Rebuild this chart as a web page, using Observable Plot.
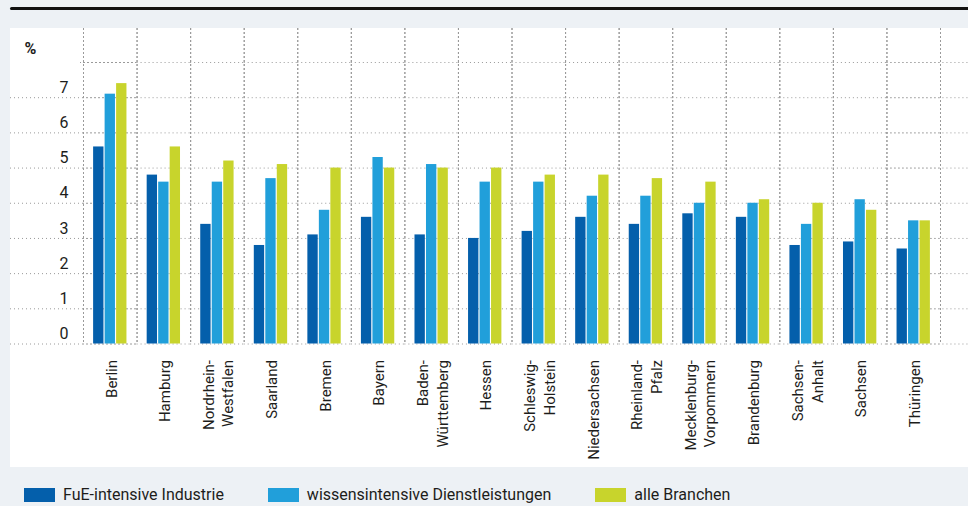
<!DOCTYPE html>
<html>
<head>
<meta charset="utf-8">
<script src="https://cdn.jsdelivr.net/npm/d3@7"></script>
<script src="https://cdn.jsdelivr.net/npm/@observablehq/plot@0.6"></script>
<style>
  html, body { margin: 0; padding: 0; }
  body { width: 968px; height: 506px; background: #edf1f5; position: relative; overflow: hidden;
         font-family: Roboto, "Liberation Sans", sans-serif; color: #1d1d1b; }
  #topline { position: absolute; left: 10px; right: 0; top: 7px; height: 3px; background: #111;
             border-radius: 2px 0 0 2px; }
  #panel { position: absolute; left: 10px; top: 28px; width: 958px; height: 439px; background: #fff; }
  #panel svg { display: block; overflow: visible; }
  #legend { position: absolute; left: 24px; top: 485px; display: flex; align-items: center; gap: 44px; font-size: 16px; }
  .item { display: flex; align-items: center; gap: 8px; }
  .sw { width: 31px; height: 14px; }
</style>
</head>
<body>
<div id="topline"></div>
<div id="panel"></div>
<div id="legend"></div>
<script>
const states = ["Berlin","Hamburg","Nordrhein-Westfalen","Saarland","Bremen","Bayern","Baden-Württemberg","Hessen","Schleswig-Holstein","Niedersachsen","Rheinland-Pfalz","Mecklenburg-Vorpommern","Brandenburg","Sachsen-Anhalt","Sachsen","Thüringen"];
const stateLabels = ["Berlin","Hamburg","Nordrhein-\nWestfalen","Saarland","Bremen","Bayern","Baden-\nWürttemberg","Hessen","Schleswig-\nHolstein","Niedersachsen","Rheinland-\nPfalz","Mecklenburg-\nVorpommern","Brandenburg","Sachsen-\nAnhalt","Sachsen","Thüringen"];
const seriesNames = ["FuE-intensive Industrie","wissensintensive Dienstleistungen","alle Branchen"];
const seriesColors = ["#045fab","#219fda","#c8d42c"];
const fue  = [5.6,4.8,3.4,2.8,3.1,3.6,3.1,3.0,3.2,3.6,3.4,3.7,3.6,2.8,2.9,2.7];
const wiss = [7.1,4.6,4.6,4.7,3.8,5.3,5.1,4.6,4.6,4.2,4.2,4.0,4.0,3.4,4.1,3.5];
const alle = [7.4,5.6,5.2,5.1,5.0,5.0,5.0,5.0,4.8,4.8,4.7,4.6,4.1,4.0,3.8,3.5];
const yTickLabels = [0,1,2,3,4,5,6,7];
const yGrid = [0,1,2,3,4,5,6,7,8];
const unitLabel = "%";

const seriesValues = [fue, wiss, alle];
const data = [];
states.forEach((s, i) => seriesNames.forEach((n, j) => data.push({state: s, series: n, value: seriesValues[j][i]})));
const labelOf = Object.fromEntries(states.map((s, i) => [s, stateLabels[i]]));

const first = states[0], last = states[states.length - 1];
const leftExt = yTickLabels.map(v => ({state: first, v}));
const topExt = [{state: first, v: 8}];
const rightExt = yGrid.map(v => ({state: last, v}));

const FONT = 'Roboto, "Liberation Sans", sans-serif';
const gridStyle = {stroke: "#9a9a9a", strokeOpacity: 1, strokeWidth: 1, strokeDasharray: "1 3"};

const chart = Plot.plot({
  width: 958, height: 439,
  marginLeft: 73, marginRight: 28, marginTop: 34, marginBottom: 123.5,
  style: {fontFamily: FONT, fontSize: "15px", color: "#1d1d1b", background: "transparent", overflow: "visible"},
  fx: {domain: states, paddingInner: 0, paddingOuter: 0, round: false, axis: null, label: null},
  x: {domain: seriesNames, paddingInner: 0.1, paddingOuter: 0.88, round: false, axis: null},
  y: {domain: [0, 8], axis: null},
  color: {domain: seriesNames, range: seriesColors},
  marks: [
    Plot.gridY(yGrid, {...gridStyle}),
    Plot.ruleY(leftExt, {fx: "state", y: "v", insetLeft: -73, ...gridStyle}),
    Plot.ruleY(topExt, {fx: "state", y: "v", insetLeft: -3, ...gridStyle}),
    Plot.ruleY(rightExt, {fx: "state", y: "v", insetRight: -28, ...gridStyle}),
    Plot.frame({anchor: "left", insetTop: -34, ...gridStyle}),
    Plot.frame({anchor: "right", insetTop: -34, ...gridStyle}),
    Plot.barY(data, {fx: "state", x: "series", y: "value", fill: "series"}),
    Plot.axisY({ticks: yTickLabels, tickSize: 0, tickPadding: 15, dy: -10, fontSize: 16, label: null}),
    Plot.axisFx({anchor: "bottom", tickSize: 0, tickPadding: 16, tickRotate: -90, tickFormat: d => labelOf[d],
                 lineHeight: 1.3, fontSize: 15, label: null, textAnchor: "end", lineAnchor: "middle"}),
    Plot.text([{state: first, t: unitLabel}], {fx: "state", text: "t", frameAnchor: "top-left",
               textAnchor: "start", lineAnchor: "middle", dx: -59, dy: -14, fontSize: 16, fontWeight: "bold"})
  ]
});
document.getElementById("panel").appendChild(chart);

const legend = document.getElementById("legend");
seriesNames.forEach((n, i) => {
  const item = document.createElement("div");
  item.className = "item";
  const sw = document.createElement("div");
  sw.className = "sw";
  sw.style.background = seriesColors[i];
  const t = document.createElement("span");
  t.textContent = n;
  item.appendChild(sw); item.appendChild(t);
  legend.appendChild(item);
});
</script>
</body>
</html>
